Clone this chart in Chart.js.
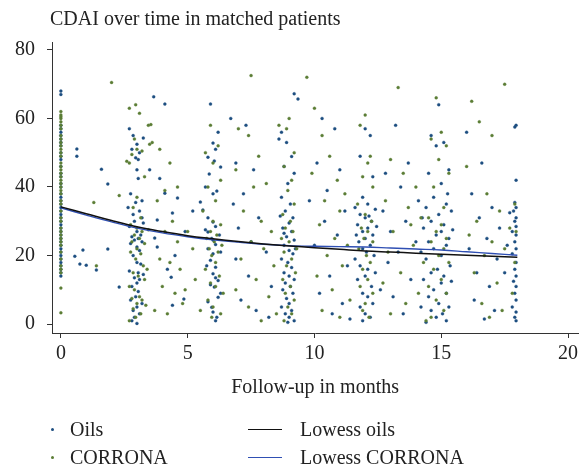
<!DOCTYPE html>
<html>
<head>
<meta charset="utf-8">
<script src="https://cdn.jsdelivr.net/npm/chart.js@4.4.1/dist/chart.umd.min.js"></script>
<style>
    body { margin: 0; background: #fff; }
    #wrap { position: relative; width: 583px; height: 467px; overflow: hidden; font-family: "Liberation Serif", "DejaVu Serif", serif; color: #222; }
    #chart { position: absolute; left: 0; top: 0; }
    #title { position: absolute; left: 50px; top: 6px; font-size: 20px; line-height: 24px; white-space: nowrap; }
    .leg { position: absolute; font-size: 20px; line-height: 24px; white-space: nowrap; }
    .dot { position: absolute; width: 3px; height: 3px; border-radius: 50%; }
    .ln { position: absolute; height: 0; border-top-width: 1.4px; border-top-style: solid; }
</style>
</head>
<body>
<div id="wrap">
    <canvas id="chart" width="583" height="467"></canvas>
    <div id="title">CDAI over time in matched patients</div>
    <div id="legend"></div>
</div>
<script>
// scatter points: [months, CDAI]
const oilsPoints = [
    [0,68],[0,67],[0,58],[0,57],[0,56],[0,55],[0,54],[0,53],[0,52],[0,50],[0,49],[0,48],[0,46],[0,44],
    [0,43],[0,41],[0,40],[0,38],[0,37],[0,36],[0,35],[0,34],[0,33],[0,32],[0,31],[0,30],[0,29],[0,28],
    [0,27],[0,26],[0,25],[0,24],[0,23],[0,22],[0,21],[0,20],[0,19],[0,18],[0,17],[0,16],[0,15],[0,14],
    [0.55,19.8],[0.63,51.1],[0.63,49],[0.75,17.5],[0.87,21.6],[1.0,17.2],[1.4,15.8],[1.6,45.2],[1.85,40.9],
    [1.85,21.9],[2.3,10.8],[3.66,66.3],[4.1,64.2],[3.25,54.3],[3.5,45],
    [2.7,57],[2.85,55],[3.0,52.5],[2.8,51],[3.1,50],[2.95,48.5],[3.05,48],[3.0,45],[3.05,42.5],[2.75,38],
    [3.2,36],[2.95,35.5],[2.65,34],[3.1,33],[2.85,32],[3.2,31],[2.9,30],[3.25,29.5],[2.7,28.5],[3.0,27],
    [3.15,26],[2.8,25.5],[3.05,25],[2.9,24.5],[3.2,24],[2.75,23.5],[3.0,22.5],[3.1,21.5],[2.85,20],[3.0,18],
    [3.15,17.5],[2.7,15.5],[3.05,15],[3.25,14.5],[2.9,13.5],[3.1,13],[3.0,12],[2.8,11],[3.05,9.5],[2.95,8],
    [2.75,7],[3.2,6],[3.0,5],[2.85,4],[3.1,3],[2.9,2],[2.8,1],[3.0,0.2],
    [3.9,42.5],[4.1,38.2],[4.4,32.4],[4.6,36.8],[3.8,30.4],[3.7,25.1],[3.8,22.5],[4.35,13.7],[4.4,5.5],
    [4.85,7.3],[4.5,20],[4.9,27],[5.2,33],[4.2,16],
    [5.9,64.2],[6.2,56],[6.0,52.8],[6.1,51],[5.8,48.7],[6.05,47.6],[6.3,45.8],[5.85,43.8],[6.15,38.8],[6.0,38],
    [5.5,35.6],[5.6,33.3],[5.8,31],[6.0,29.8],[6.1,28.5],[5.8,26.9],[6.0,24.5],[6.1,23.2],[5.8,22],[6.0,20.5],
    [5.9,18.6],[6.1,16.6],[6.0,14.7],[6.2,12.7],[6.05,10.8],[6.2,7.8],[5.95,4.9],[6.15,2],[5.7,27.5],[6.25,26],
    [5.95,25],[6.3,21],[5.75,17],[6.1,13.5],[5.9,11.5],[6.3,9],[5.8,6.5],[6.0,3.5],[6.1,1],[5.7,40],
    [6.7,60],[7.3,58],[6.9,47],[7.6,45],[7.2,38],[6.8,35],[7.8,31],[7.0,28],[7.5,24],[8.1,21],[6.9,19],
    [7.4,14],[8.3,11],[7.1,7],[7.7,4],[8.2,2],
    [9.2,67.2],[9.35,65.7],[8.7,56],[8.6,54],[8.9,53],[9.1,48.9],[8.8,46],[9.2,44],[8.95,41],[8.7,37],
    [9.05,35],[8.85,33],[9.15,31],[9.0,29.5],[8.75,28],[9.1,27],[8.9,25.5],[9.2,24.5],[8.8,23],[9.0,21.5],
    [9.15,20.5],[8.7,19],[8.95,18],[9.1,16.5],[8.8,15],[9.0,14],[9.2,13],[8.85,12],[9.05,11],[8.75,10],
    [9.15,9],[8.9,7.5],[9.0,6],[8.7,5],[9.1,4],[8.85,3],[9.0,2],[9.2,1],[8.95,0.5],[8.8,26.5],[9.25,22],[8.65,31.5],
    [10.3,60],[10.8,57],[10.1,47],[11.0,45],[10.5,39],[9.8,36],[11.2,33],[10.4,30],[10.9,26],[10.0,23],
    [11.3,17],[10.6,14],[10.2,9],[11.1,6],[10.7,3],[11.4,1.5],
    [12.0,57],[12.2,55],[11.8,49],[12.3,43],[11.9,37],[12.1,35],[11.6,34],[12.4,33.5],[11.8,32],[12.0,31],
    [12.25,30],[11.7,29],[12.1,28],[11.9,27],[12.3,26],[12.0,25],[11.75,24],[12.2,23],[11.9,22],[12.05,21],
    [12.35,20],[11.8,17],[12.1,16],[12.0,14],[11.7,13],[12.25,11],[11.9,9],[12.1,8],[12.3,6],[11.8,5],
    [12.0,3],[12.2,2],[11.9,1],[12.45,28.5],[11.65,26],[12.4,15],[11.6,19],[12.15,31.5],
    [13.2,58],[13.7,47],[12.8,44],[13.4,40],[14.1,36],[12.7,33],[13.6,30],[13.0,27],[14.0,24],[13.3,21],
    [12.9,18],[13.8,13],[13.1,8],[14.2,5],[13.5,3],[12.6,10],
    [14.9,64],[14.6,55],[15.1,53],[14.8,52],[15.3,45],[14.5,44],[15.0,41],[14.7,37],[15.2,35],[14.4,34],
    [15.4,33],[14.9,32],[14.6,30],[15.1,29],[14.3,28],[15.0,27],[14.8,26],[15.3,25],[14.5,24],[15.2,23],
    [14.7,22],[15.0,20],[14.4,19],[15.35,17],[14.85,16],[14.6,15],[15.1,14],[14.3,13],[15.0,12],[14.7,10],
    [15.2,9],[14.5,8],[14.9,6],[15.3,5],[14.6,4],[15.05,3],[14.8,2],[15.2,1],[14.4,0.5],[15.45,27.5],
    [14.25,31],[15.4,12.5],[14.2,21],[15.25,38],
    [16.0,56],[16.6,47],[16.2,38],[17.0,34],[16.5,31],[17.3,28],[16.8,25],[16.1,22],[17.2,19],[16.4,15],
    [16.9,11],[16.3,7],[17.1,4],[16.7,1.5],
    [17.95,58],[17.9,57.5],[17.95,42],[17.9,35.5],[17.95,34],[17.85,33],[17.7,32.5],[17.95,31],[17.9,30],
    [17.95,28.5],[17.8,27],[17.95,26],[17.9,24],[17.95,22],[17.8,20.5],[17.95,18],[17.9,16],[17.95,14],
    [17.85,12.5],[17.95,11],[17.9,9],[17.95,7],[17.8,5],[17.95,3.5],[17.9,2],[17.95,1],[17.6,23],[17.5,15]
];

const corronaPoints = [
    [0,62],[0,61],[0,60.5],[0,60],[0,59],[0,58],[0,57],[0,55],[0,54],[0,53],[0,52],[0,51],[0,50],[0,49],
    [0,47],[0,46],[0,45],[0,44],[0,43],[0,42],[0,41],[0,40],[0,39],[0,38],[0,36],[0,35],[0,33],[0,31],
    [0,30],[0,28],[0,27],[0,26],[0,25],[0,24],[0,23],[0,21],[0,19],[0,17],[0,16],[0,15],[0,10.5],[0,3.3],
    [1.3,35.5],[1.4,17],[2.0,70.5],[2.3,37.5],[2.6,47.5],[2.7,63],[2.95,64],[3.1,61.5],[3.45,58],[3.55,58.2],
    [2.9,54],[3.0,51],[2.8,49.5],[3.2,50.5],[3.5,52.5],[2.7,47],[3.3,43],[3.0,37],[2.85,34],[3.15,31],
    [2.75,29],[3.0,28],[3.2,27],[2.9,26],[3.1,25],[2.8,24],[3.3,23.5],[3.0,22],[2.75,21],[3.15,20.5],
    [2.95,19],[3.25,17],[2.85,15],[3.05,14],[3.3,13],[2.7,11],[2.9,10],[3.1,8],[2.8,7.5],[3.2,7],
    [3.0,6],[3.35,5.5],[2.85,4.5],[3.15,3],[2.95,2],[2.7,1],[3.4,16],[3.45,27.5],
    [3.6,53],[3.9,51],[4.3,47],[4.6,40],[3.8,36],[4.1,39],[4.4,30],[4.1,27],[4.6,24],[3.9,19],[4.3,18],
    [4.7,16],[4.0,11],[4.5,9],[4.8,6],[3.7,4],[4.2,3],[4.9,10],[5.2,22],[5.0,27],[5.3,13],[5.5,4],
    [5.9,58],[6.2,52],[5.7,50],[6.0,47],[6.3,42],[5.8,40],[6.1,36],[5.6,33],[6.0,30],[6.3,29],[5.9,27],
    [6.15,26],[5.75,25],[6.05,24],[6.35,23],[5.85,22],[6.2,21],[5.95,20],[6.1,18],[5.7,16],[6.25,14],
    [5.9,12],[6.1,11],[6.4,9],[5.8,7],[6.0,5],[6.3,3],[5.95,2],
    [7.0,57],[7.4,55],[7.8,49],[6.9,45],[8.1,41],[7.6,40],[7.2,33],[7.9,30],[8.3,27],[7.5,24],[8.0,22],
    [7.1,19],[8.4,17],[7.7,13],[6.9,10],[8.2,8],[7.4,5],[8.5,3],[7.9,1],[8.6,58],[7.5,72.5],
    [9.0,60],[8.9,57],[9.2,50],[8.8,46],[9.1,42],[8.95,39],[9.2,35],[8.75,32],[9.05,30],[8.85,28],[9.15,27],
    [8.7,25],[9.0,24],[9.3,22],[8.8,21],[9.1,19],[8.9,17],[9.25,15],[8.75,13],[9.05,11],[8.85,9],[9.2,7],
    [8.95,5],[9.1,3],[8.8,1],
    [10.0,63],[10.3,55],[10.6,49],[9.9,44],[10.9,42],[11.2,38],[10.4,36],[11.0,33],[10.2,29],[10.8,25],
    [11.3,23],[10.5,20],[11.1,17],[10.1,14],[10.7,10],[11.4,7],[10.3,4],[11.0,2],[9.7,72],
    [12.0,61],[11.8,58],[12.2,49],[12.1,47],[11.9,43],[12.3,40],[11.7,35],[12.0,32],[12.25,30],[11.85,28],
    [12.1,27],[11.95,25],[12.3,24],[11.75,22],[12.05,20],[12.2,18],[11.9,16],[12.1,13],[11.8,11],[12.3,9],
    [12.0,6],[11.9,4],[12.15,2],
    [13.3,69],[13.0,48],[13.5,44],[14.0,40],[12.8,36],[13.7,34],[14.2,31],[13.1,27],[13.9,23],[12.9,21],
    [14.3,18],[13.4,15],[12.7,12],[14.1,9],[13.6,6],[13.0,3],[14.4,1],[13.8,29],
    [14.8,66],[15.0,56],[14.6,54],[15.2,52],[14.9,48],[15.3,44],[14.7,40],[15.1,34],[14.5,31],[15.0,29],
    [14.8,27],[15.2,25],[14.6,24],[15.1,22],[14.9,20],[15.3,18],[14.7,16],[15.0,13],[14.5,11],[15.2,9],
    [14.8,7],[15.1,4],[14.6,2],
    [16.2,65],[16.5,59],[17.0,55],[16.0,46],[16.8,38],[17.3,33],[16.4,30],[17.7,28],[16.1,26],[17.0,24],
    [17.5,22],[16.7,20],[17.9,18],[16.3,15],[17.2,12],[17.8,9],[16.6,6],[17.4,4],[16.9,2],[17.5,70],
    [17.95,27],[17.9,35]
];

// lowess curves
const lowessMonths = [0, 1, 2, 3, 4, 5, 6, 7, 8, 9, 10, 11, 12, 13, 14, 15, 16, 17, 18];
const lowessOils = [34.2, 32.2, 30.2, 28.4, 27.0, 25.8, 24.9, 24.1, 23.4, 22.8, 22.3, 21.8, 21.3, 21.0, 20.7, 20.4, 20.1, 19.8, 19.5];
const lowessCorrona = [33.9, 31.8, 29.8, 28.0, 26.6, 25.5, 24.6, 23.9, 23.3, 22.9, 22.7, 22.6, 22.5, 22.2, 21.9, 21.6, 21.1, 20.6, 20.1];

const xTicks = [0, 5, 10, 15, 20];
const yTicks = [0, 20, 40, 60, 80];

const FONT = '"Liberation Serif", "DejaVu Serif", serif';
const TEXT = '#222';
const AXIS = '#333';
const BLUE_DOT = '#1d4e80';
const GREEN_DOT = '#5b7d35';

const toXY = pts => pts.map(p => ({ x: p[0], y: p[1] }));

const series = [
    { label: 'Oils', kind: 'dot', color: BLUE_DOT },
    { label: 'CORRONA', kind: 'dot', color: GREEN_DOT },
    { label: 'Lowess oils', kind: 'line', color: '#111' },
    { label: 'Lowess CORRONA', kind: 'line', color: '#2f4fb3' }
];

const ctx = document.getElementById('chart').getContext('2d');
new Chart(ctx, {
    type: 'scatter',
    data: {
        datasets: [
            {
                label: series[2].label,
                data: lowessMonths.map((m, i) => ({ x: m, y: lowessOils[i] })),
                showLine: true,
                borderColor: series[2].color,
                borderWidth: 1.5,
                pointRadius: 0,
                tension: 0.4,
                order: 0
            },
            {
                label: series[3].label,
                data: lowessMonths.map((m, i) => ({ x: m, y: lowessCorrona[i] })),
                showLine: true,
                borderColor: series[3].color,
                borderWidth: 1.4,
                pointRadius: 0,
                tension: 0.4,
                order: 0
            },
            {
                label: series[1].label,
                data: toXY(corronaPoints),
                backgroundColor: GREEN_DOT,
                borderColor: 'rgba(91, 125, 53, 0.4)',
                borderWidth: 0.8,
                pointRadius: 1.5,
                order: 1
            },
            {
                label: series[0].label,
                data: toXY(oilsPoints),
                backgroundColor: BLUE_DOT,
                borderColor: 'rgba(29, 78, 128, 0.4)',
                borderWidth: 0.8,
                pointRadius: 1.5,
                order: 2
            }
        ]
    },
    options: {
        responsive: false,
        animation: false,
        layout: { padding: { top: 42, right: 3, bottom: 63, left: 0 } },
        plugins: {
            legend: { display: false },
            tooltip: { enabled: false }
        },
        scales: {
            x: {
                type: 'linear',
                min: -0.35,
                max: 20.4,
                afterBuildTicks: scale => { scale.ticks = xTicks.map(v => ({ value: v })); },
                afterFit: scale => { scale.height = 71; },
                grid: { drawOnChartArea: false, tickLength: 5, color: AXIS },
                border: { color: AXIS, width: 1 },
                ticks: { color: TEXT, font: { family: FONT, size: 20 }, padding: 4, maxRotation: 0 },
                title: {
                    display: true,
                    text: 'Follow-up in months',
                    color: TEXT,
                    font: { family: FONT, size: 20 },
                    padding: { top: 4, bottom: 4 }
                }
            },
            y: {
                type: 'linear',
                min: -2.6,
                max: 82.3,
                afterBuildTicks: scale => { scale.ticks = yTicks.map(v => ({ value: v })); },
                afterFit: scale => { scale.width = 52; },
                grid: { drawOnChartArea: false, tickLength: 5, color: AXIS },
                border: { color: AXIS, width: 1 },
                ticks: { color: TEXT, font: { family: FONT, size: 20 }, padding: 12 }
            }
        }
    }
});

// legend in two columns under the plot
const legend = document.getElementById('legend');
const rows = [429, 457];
series.forEach((s, i) => {
    const mid = rows[i % 2];
    const colX = i < 2 ? 52 : 248;
    if (s.kind === 'dot') {
        const d = document.createElement('div');
        d.className = 'dot';
        d.style.left = (colX - 1.5) + 'px';
        d.style.top = (mid - 1.5) + 'px';
        d.style.background = s.color;
        legend.appendChild(d);
    } else {
        const l = document.createElement('div');
        l.className = 'ln';
        l.style.left = colX + 'px';
        l.style.width = '34px';
        l.style.top = mid + 'px';
        l.style.borderTopColor = s.color;
        legend.appendChild(l);
    }
    const t = document.createElement('div');
    t.className = 'leg';
    t.textContent = s.label;
    t.style.left = (i < 2 ? 70 : 300) + 'px';
    t.style.top = (mid - 12.5) + 'px';
    legend.appendChild(t);
});
</script>
</body>
</html>
